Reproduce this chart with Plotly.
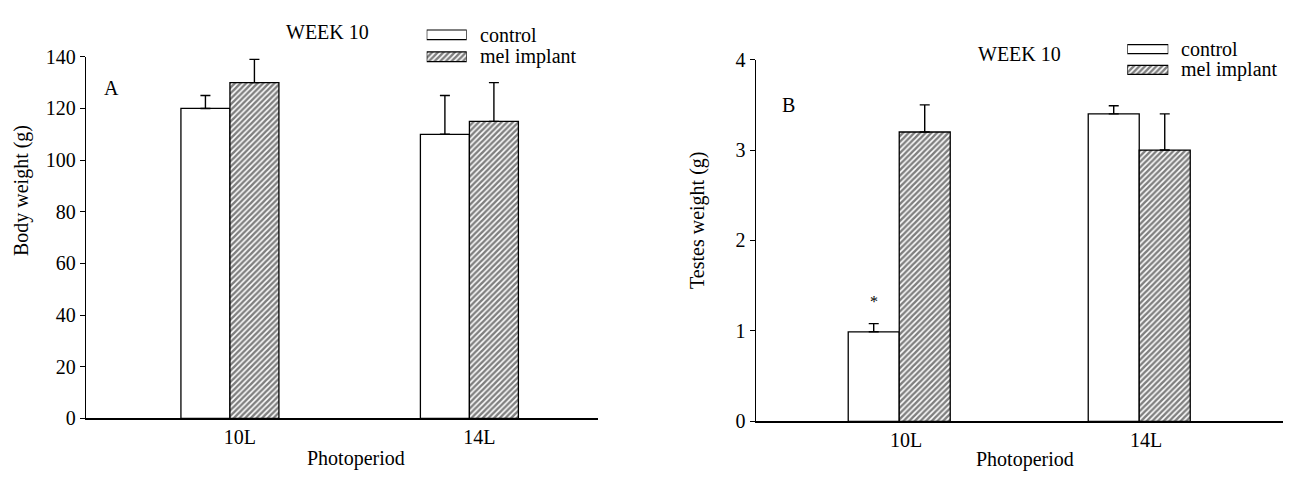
import plotly.graph_objects as go

# ---------------- data ----------------
categories = ["10L", "14L"]
series_names = ["control", "mel implant"]

body_control = [120, 110]
body_control_err = [5, 15]
body_mel = [130, 115]
body_mel_err = [9, 15]

testes_control = [0.99, 3.40]
testes_control_err = [0.09, 0.09]
testes_mel = [3.20, 3.00]
testes_mel_err = [0.30, 0.40]

body_ticks = [0, 20, 40, 60, 80, 100, 120, 140]
testes_ticks = [0, 1, 2, 3, 4]

# ---------------- style ----------------
W, H = 1297, 480
FONT = "Liberation Serif, Times New Roman, Times, serif"
FS = 20
BLACK = "black"


def px(x):
    return x / W


def py(y):
    return 1 - y / H


hatch = dict(shape="/", size=4, solidity=0.62, fgcolor=BLACK, bgcolor="white")
plain = dict(shape="", bgcolor="white")

fig = go.Figure()

panels = [
    dict(xa="x", ya="y", ctrl=body_control, ctrl_e=body_control_err,
         mel=body_mel, mel_e=body_mel_err, w=0.2046),
    dict(xa="x2", ya="y2", ctrl=testes_control, ctrl_e=testes_control_err,
         mel=testes_mel, mel_e=testes_mel_err, w=0.2125),
]

for p in panels:
    for name, vals, errs, pat, off in [
        (series_names[0], p["ctrl"], p["ctrl_e"], plain, -1),
        (series_names[1], p["mel"], p["mel_e"], hatch, 0),
    ]:
        fig.add_trace(go.Bar(
            x=categories, y=vals, name=name, showlegend=False,
            xaxis=p["xa"], yaxis=p["ya"],
            width=p["w"], offset=off * p["w"],
            marker=dict(color="white", pattern=pat,
                        line=dict(color=BLACK, width=1.3)),
            error_y=dict(type="data", symmetric=False, array=errs,
                         arrayminus=[0] * len(errs), color=BLACK,
                         thickness=1.4, width=5),
        ))

# legend swatches (drawn on small dedicated axes)
legend_axes = [("x3", "y3"), ("x4", "y4")]
for xa, ya in legend_axes:
    for name, pat in [(series_names[0], plain), (series_names[1], hatch)]:
        fig.add_trace(go.Bar(
            x=[1], y=[name], orientation="h", showlegend=False,
            xaxis=xa, yaxis=ya, width=0.44,
            marker=dict(color="white", pattern=pat,
                        line=dict(color=BLACK, width=1.2)),
        ))

axis_common = dict(showgrid=False, zeroline=False, showline=True,
                   linecolor=BLACK,
                   tickfont=dict(family=FONT, size=FS, color=BLACK))

fig.update_layout(
    width=W, height=H,
    margin=dict(l=0, r=0, t=0, b=0),
    paper_bgcolor="white", plot_bgcolor="white",
    showlegend=False,
    font=dict(family=FONT, size=FS, color=BLACK),
    xaxis=dict(domain=[px(86), px(598)], anchor="y", type="category",
               range=[-0.601, 1.537], ticks="", linewidth=2,
               ticklabelshift=10, **axis_common),
    yaxis=dict(domain=[py(427), py(48)], anchor="x", range=[0, 140],
               tickvals=body_ticks, ticks="outside", ticklen=5,
               tickwidth=1.3, tickcolor=BLACK, linewidth=1.3, **axis_common),
    xaxis2=dict(domain=[px(755.7), px(1283)], anchor="y2", type="category",
                range=[-0.598, 1.599], ticks="", linewidth=2,
                ticklabelshift=7, **axis_common),
    yaxis2=dict(domain=[py(430), py(51)], anchor="x2", range=[0, 4],
                tickvals=testes_ticks, ticks="outside", ticklen=5,
                tickwidth=1.3, tickcolor=BLACK, linewidth=1.3, **axis_common),
    xaxis3=dict(domain=[px(426.7), px(466.7)], anchor="y3", range=[0, 1],
                visible=False, fixedrange=True),
    yaxis3=dict(domain=[py(59.5), py(13.5)], anchor="x3", type="category",
                autorange="reversed", visible=False, fixedrange=True),
    xaxis4=dict(domain=[px(1127.3), px(1168.3)], anchor="y4", range=[0, 1],
                visible=False, fixedrange=True),
    yaxis4=dict(domain=[py(72.6), py(29.1)], anchor="x4", type="category",
                autorange="reversed", visible=False, fixedrange=True),
)

ann = []


def txt(text, x, y, xref="paper", yref="paper", xanchor="center",
        size=FS, angle=0):
    ann.append(dict(text=text, x=x, y=y, xref=xref, yref=yref,
                    xanchor=xanchor, yanchor="middle", showarrow=False,
                    textangle=angle,
                    font=dict(family=FONT, size=size, color=BLACK)))


# titles
txt("WEEK 10", px(327), py(22))
txt("WEEK 10", px(1019), py(45.5))
txt("Photoperiod", px(356), py(469.5))
txt("Photoperiod", px(1025), py(470))
txt("Body weight (g)", px(21.7), py(188), angle=-90)
txt("Testes weight (g)", px(698), py(219), angle=-90)

# legend texts
txt(series_names[0], px(478), py(25), xanchor="left")
txt(series_names[1], px(478), py(48), xanchor="left")
txt(series_names[0], px(1179), py(40), xanchor="left")
txt(series_names[1], px(1179), py(61.7), xanchor="left")

# panel letters and significance mark
txt("A", -0.494, 128, xref="x", yref="y")
txt("B", -0.4625, 3.5, xref="x2", yref="y2")
txt("*", -0.2125 / 2, 1.33, xref="x2", yref="y2", size=16)

fig.update_layout(annotations=ann)

fig.write_html("out.html")
